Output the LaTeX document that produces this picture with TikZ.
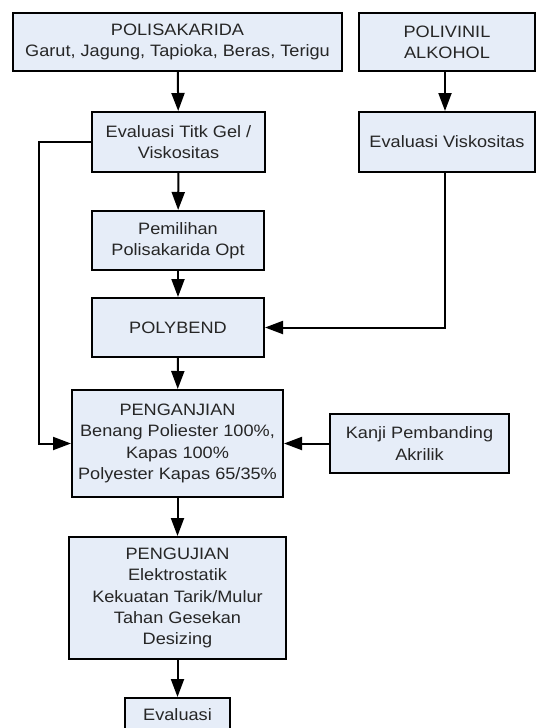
\documentclass[tikz,border=0pt]{standalone}
\usepackage{fontspec}
\setmainfont{Liberation Sans}[FakeStretch=1.1]
\usepackage{tikz}
\usetikzlibrary{arrows.meta}
\definecolor{boxfill}{RGB}{230,237,248}

\begin{document}
\begin{tikzpicture}[
    x=1pt, y=-1pt,
    >={Triangle[length=18pt,width=13pt]},
    line width=2pt,
    box/.style={rectangle, draw, fill=boxfill, align=center, inner sep=0pt,
                font=\fontsize{16.5}{21.3}\selectfont, text=black!85}
]
\useasboundingbox (0,0) rectangle (537,728);

% Nodes
\node[box, minimum width=329, minimum height=58] at (177.5, 42) (pol) {POLISAKARIDA\\Garut, Jagung, Tapioka, Beras, Terigu};
\node[box, minimum width=176, minimum height=58] at (447, 42) (pva) {POLIVINIL\\ALKOHOL};

\node[box, minimum width=173, minimum height=60] at (178.5, 142) (evgel) {Evaluasi Titk Gel /\\Viskositas};
\node[box, minimum width=176, minimum height=60] at (447, 142) (evvis) {Evaluasi Viskositas};

\node[box, minimum width=172, minimum height=59] at (178, 240.5) (pilih) {Pemilihan\\Polisakarida Opt};
\node[box, minimum width=172, minimum height=59] at (178, 327.5) (poly) {POLYBEND};

\node[box, minimum width=211, minimum height=107] at (177.5, 443.5) (kanjian) {PENGANJIAN\\Benang Poliester 100\%,\\Kapas 100\%\\Polyester Kapas 65/35\%};
\node[box, minimum width=179, minimum height=59] at (419.5, 443.5) (kanji) {Kanji Pembanding\\Akrilik};

\node[box, minimum width=217, minimum height=122] at (177.5, 598) (uji) {PENGUJIAN\\Elektrostatik\\Kekuatan Tarik/Mulur\\Tahan Gesekan\\Desizing};
\node[box, minimum width=105, anchor=north, inner ysep=10pt, text height=12pt, text depth=30pt] at (177.5, 697) (eval) {Evaluasi};

\coordinate (vx) at (445, 0);
\coordinate (lx) at (39, 0);

% Edges
\draw[->] (pol) -- (evgel);
\draw[->] (pva.south -| vx) -- (evvis.north -| vx);
\draw[->] (evgel) -- (pilih);
\draw[->] (pilih) -- (poly);
\draw[->] (evvis.south -| vx) |- (poly.east);
\draw[->] (evgel.west) -- (evgel.west -| lx) |- (kanjian.west);
\draw[->] (poly) -- (kanjian);
\draw[->] (kanji) -- (kanjian);
\draw[->] (kanjian) -- (uji);
\draw[->] (uji) -- (eval);

\end{tikzpicture}
\end{document}
